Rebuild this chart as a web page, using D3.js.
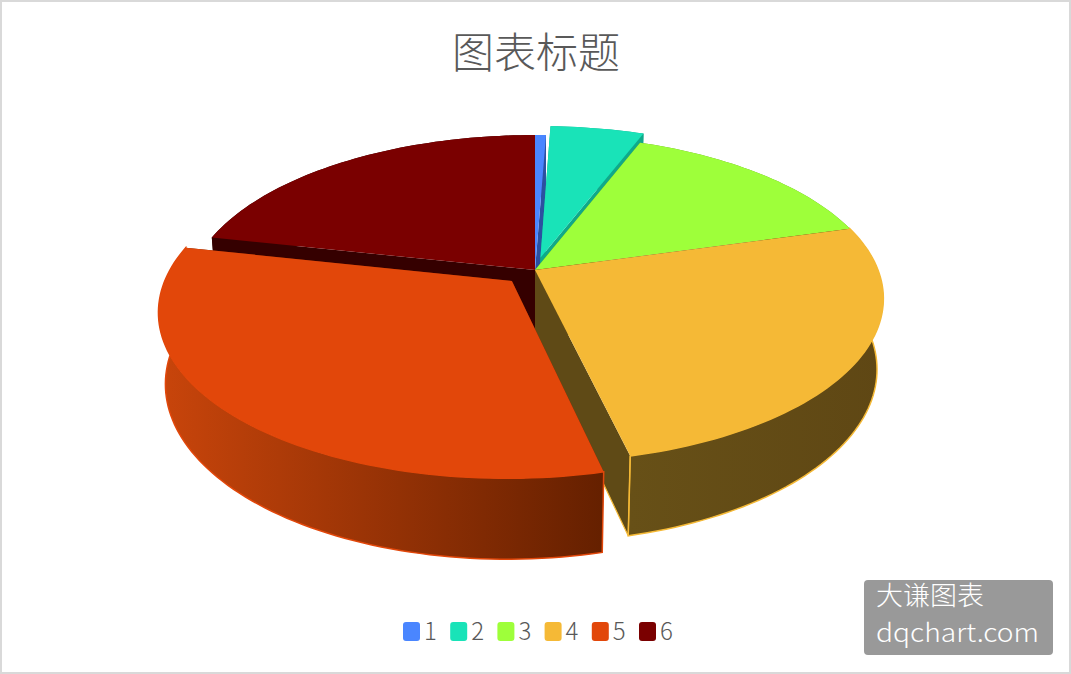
<!DOCTYPE html>
<html lang="zh">
<head>
<meta charset="UTF-8">
<title>图表标题</title>
<script src="https://d3js.org/d3.v7.min.js"></script>
<style>
    html, body { margin: 0; padding: 0; background: #fff; }
    svg { display: block; }
    text { font-family: "Noto Sans CJK SC", "Noto Sans", sans-serif; font-weight: 300; }
</style>
</head>
<body>
<script>
    const title = "图表标题";
    const categories = ["1", "2", "3", "4", "5", "6"];
    const values = [0.6, 5.2, 14.8, 25.7, 32.1, 21.6];
    const colors = ["#4a86ff", "#19e3b8", "#9eff3a", "#f5b936", "#e2470a", "#7a0000"];
    const sideColors = ["#2c50a0", "#0fa98a", "#5f9a22", "#5f4a16", "#6b2204", "#350000"];
    const wallStart = ["#2c50a0", "#0fa98a", "#5f9a22", "#675017", "#c9450b", "#350000"];
    const wallEnd = ["#2c50a0", "#0fa98a", "#5f9a22", "#5f4714", "#652000", "#350000"];
    const explode = [0, 0.08, 0, 0, 0.095, 0];
    const drawOrder = [0, 1, 5, 2, 3, 4];

    const width = 1071, height = 674;
    const svg = d3.select("body").append("svg").attr("width", width).attr("height", height);

    svg.append("rect").attr("x", 1).attr("y", 1).attr("width", width - 2).attr("height", height - 2)
        .attr("fill", "#fff").attr("stroke", "#d9d9d9").attr("stroke-width", 2);

    svg.append("text").attr("x", 536).attr("y", 68).attr("text-anchor", "middle")
        .attr("font-size", 42).attr("fill", "#595959").text(title);

    // perspective view of the pie plane: unit disc, camera above the front edge
    const scaleX = d3.scaleLinear().domain([-1, 1]).range([535 - 343, 535 + 343]);
    const scaleY = d3.scaleLinear().domain([-1, 1]).range([270 - 158.6, 270 + 158.6]);
    const tilt = 0.175, sink = 0.018, depth = 71;

    function project(x, y, low) {
        const w = 1 - tilt * y + (low ? sink : 0);
        return [
            535 + (scaleX(x) - 535) / w,
            270 + (scaleY(y) - 270 + (low ? depth : 0)) / w
        ];
    }

    const arcs = d3.pie().sort(null).value(d => d)(values);
    const line = d3.line();
    const defs = svg.append("defs");

    function rim(d, i, low) {
        const e = explode[i], mid = (d.startAngle + d.endAngle) / 2;
        const ox = e * Math.sin(mid), oy = -e * Math.cos(mid);
        const n = Math.max(2, Math.ceil((d.endAngle - d.startAngle) * 40));
        return d3.range(n + 1).map(k => {
            const a = d.startAngle + (d.endAngle - d.startAngle) * k / n;
            return project(ox + Math.sin(a), oy - Math.cos(a), low);
        });
    }

    function apex(d, i, low) {
        const e = explode[i], mid = (d.startAngle + d.endAngle) / 2;
        return project(e * Math.sin(mid), -e * Math.cos(mid), low);
    }

    const g = svg.append("g");

    drawOrder.forEach(i => {
        const d = arcs[i];
        const top = rim(d, i, false), bot = rim(d, i, true);
        const a0 = apex(d, i, false), a1 = apex(d, i, true);
        const slice = g.append("g").attr("class", "slice-" + categories[i]);
        const topEnd = top[top.length - 1], botEnd = bot[bot.length - 1];

        // radial walls
        [[top[0], bot[0]], [topEnd, botEnd]].forEach(p => {
            slice.append("path")
                .attr("d", line([a0, p[0], p[1], a1]) + "Z")
                .attr("fill", sideColors[i]);
        });

        // outer wall
        const id = "wall" + i;
        const ext = d3.extent(top, p => p[0]);
        const grad = defs.append("linearGradient").attr("id", id)
            .attr("gradientUnits", "userSpaceOnUse")
            .attr("x1", ext[0]).attr("x2", ext[1]).attr("y1", 0).attr("y2", 0);
        grad.append("stop").attr("offset", 0).attr("stop-color", wallStart[i]);
        grad.append("stop").attr("offset", 1).attr("stop-color", wallEnd[i]);
        slice.append("path")
            .attr("d", line(top.concat(bot.slice().reverse())) + "Z")
            .attr("fill", "url(#" + id + ")")
            .attr("stroke", (i === 3 || i === 4) ? colors[i] : "none")
            .attr("stroke-width", (i === 3 || i === 4) ? 1.5 : 0);

        // the yellow slice keeps a light edge along its visible side wall
        if (i === 3) {
            slice.append("path")
                .attr("d", line([topEnd, botEnd, a1]))
                .attr("fill", "none").attr("stroke", colors[i]).attr("stroke-width", 1.2);
        }

        // top face
        slice.append("path")
            .attr("d", line([a0].concat(top)) + "Z")
            .attr("fill", colors[i]);
    });

    // legend
    const legendX = d3.scalePoint().domain(categories).range([403, 639]);
    const legend = svg.append("g").selectAll("g").data(categories).enter().append("g")
        .attr("transform", d => "translate(" + legendX(d) + ",622)");
    legend.append("rect").attr("width", 17).attr("height", 19).attr("rx", 3)
        .attr("fill", (d, i) => colors[i]);
    legend.append("text").attr("x", 21).attr("y", 18).attr("font-size", 24)
        .attr("fill", "#595959").text(d => d);

    // watermark
    svg.append("rect").attr("x", 864).attr("y", 580).attr("width", 189).attr("height", 75)
        .attr("rx", 4).attr("fill", "#999");
    svg.append("text").attr("x", 876).attr("y", 605).attr("font-size", 26)
        .attr("textLength", 108).attr("lengthAdjust", "spacingAndGlyphs")
        .attr("fill", "#fff").text("大谦图表");
    svg.append("text").attr("x", 876).attr("y", 641.5).attr("font-size", 25)
        .attr("textLength", 163).attr("lengthAdjust", "spacingAndGlyphs")
        .attr("fill", "#fff").text("dqchart.com");
</script>
</body>
</html>
